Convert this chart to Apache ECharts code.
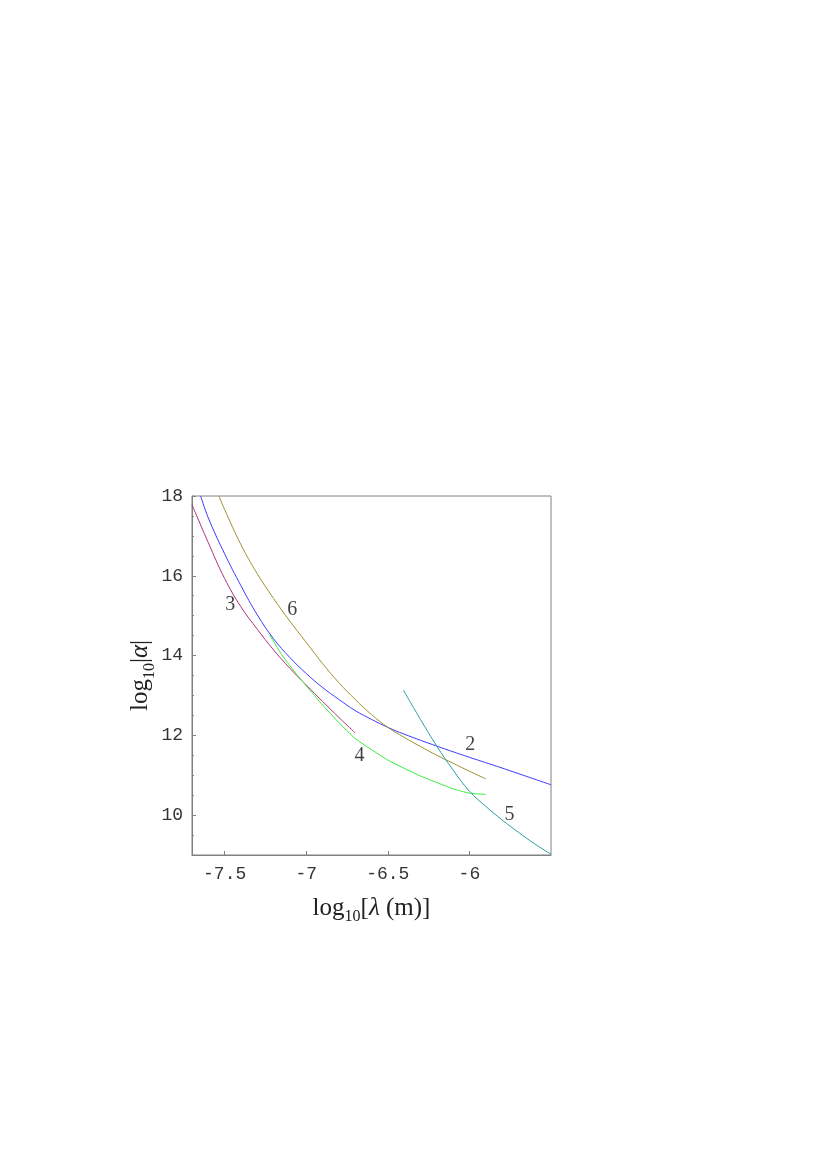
<!DOCTYPE html>
<html>
<head>
<meta charset="utf-8">
<script src="https://cdn.jsdelivr.net/npm/echarts@6/dist/echarts.min.js"></script>
<style>
html,body{margin:0;padding:0;background:#fff;}
#main{width:828px;height:1170px;}
</style>
</head>
<body>
<div id="main"></div>
<script>
// log10(lambda) ticks and log10|alpha| ticks
var xTicks = [-7.5, -7, -6.5, -6];
var xTickLabels = ['-7.5', '-7', '-6.5', '-6'];
var yTicks = [10, 12, 14, 16, 18];
var yMinorTicks = [9, 9.5, 10, 10.5, 11, 11.5, 12, 12.5, 13, 13.5, 14, 14.5, 15, 15.5, 16, 16.5, 17, 17.5, 18];

// curve 2 (blue)
var curve2 = [[-7.647,18.0],[-7.6,17.45],[-7.5,16.55],[-7.4,15.75],[-7.3,15.02],[-7.2,14.42],
    [-7.1,13.95],[-7.0,13.55],[-6.9,13.2],[-6.8,12.9],[-6.7,12.62],[-6.6,12.4],[-6.5,12.2],
    [-6.4,12.03],[-6.2,11.73],[-6.0,11.45],[-5.8,11.18],[-5.5,10.76]];
// curve 3 (magenta)
var curve3 = [[-7.7,17.78],[-7.6,16.83],[-7.5,15.93],[-7.4,15.22],[-7.3,14.66],[-7.2,14.14],
    [-7.1,13.68],[-7.0,13.26],[-6.9,12.85],[-6.8,12.45],[-6.7,12.06]];
// curve 4 (green)
var curve4 = [[-7.225,14.52],[-7.15,14.02],[-7.08,13.64],[-7.0,13.24],[-6.9,12.76],[-6.8,12.32],
    [-6.7,11.92],[-6.5,11.38],[-6.3,10.98],[-6.1,10.66],[-6.0,10.55],[-5.9,10.52]];
// curve 5 (teal)
var curve5 = [[-6.404,13.13],[-6.3,12.4],[-6.2,11.73],[-6.1,11.13],[-6.0,10.6],[-5.9,10.22],
    [-5.8,9.88],[-5.7,9.57],[-5.6,9.28],[-5.5,9.02]];
// curve 6 (olive)
var curve6 = [[-7.535,18.0],[-7.5,17.66],[-7.4,16.78],[-7.3,16.05],[-7.2,15.43],[-7.1,14.86],
    [-7.0,14.33],[-6.9,13.8],[-6.8,13.32],[-6.7,12.9],[-6.6,12.52],[-6.5,12.2],[-6.4,11.95],
    [-6.3,11.72],[-6.2,11.5],[-6.1,11.3],[-6.0,11.1],[-5.9,10.91]];

// curve number labels: [x, y, text]
var curveLabels = [[-5.995,11.77,'2'],[-7.465,15.27,'3'],[-6.673,11.48,'4'],[-5.755,10.02,'5'],[-7.085,15.14,'6']];

var AXIS_GRAY = '#808080';
var SERIF = '"Liberation Serif","DejaVu Serif",serif';
var MONO = '"Liberation Mono","DejaVu Sans Mono",monospace';

var chart = echarts.init(document.getElementById('main'));

function curve(name, data, color, smooth){
    return {
        name: name,
        type: 'line',
        data: data,
        showSymbol: false,
        smooth: smooth,
        lineStyle: {color: color, width: 1},
        itemStyle: {color: color},
        animation: false
    };
}

var nameRich = {
    t: {fontFamily: SERIF, fontSize: 25, color: '#222', lineHeight: 34},
    s: {fontFamily: SERIF, fontSize: 16, color: '#222', verticalAlign: 'bottom', lineHeight: 20},
    g: {fontFamily: SERIF, fontSize: 25, color: '#222', fontStyle: 'italic', lineHeight: 34}
};

var option = {
    backgroundColor: '#fff',
    animation: false,
    grid: {
        left: 192, top: 496, width: 359, height: 359,
        show: true, borderColor: AXIS_GRAY, borderWidth: 1
    },
    xAxis: {
        type: 'value',
        min: -7.7, max: -5.5,
        name: '{t|log}{s|10}{t|[}{g|λ}{t| (m)]}',
        nameLocation: 'middle',
        nameGap: 36,
        nameTextStyle: {rich: nameRich},
        axisLine: {lineStyle: {color: AXIS_GRAY}},
        axisTick: {inside: true, length: 4, lineStyle: {color: AXIS_GRAY}, customValues: xTicks},
        axisLabel: {
            customValues: xTicks,
            margin: 10,
            fontFamily: MONO, fontSize: 18, color: '#333',
            formatter: function(v){
                var i = xTicks.indexOf(v);
                return i >= 0 ? xTickLabels[i] : '';
            }
        },
        splitLine: {show: false}
    },
    yAxis: [{
        type: 'value',
        min: 9, max: 18,
        name: '{t|log}{s|10}{t||}{g|α}{t||}',
        nameLocation: 'middle',
        nameGap: 32,
        nameTextStyle: {rich: nameRich},
        axisLine: {lineStyle: {color: AXIS_GRAY}},
        axisTick: {inside: true, length: 4, lineStyle: {color: AXIS_GRAY}, customValues: yTicks},
        axisLabel: {customValues: yTicks, margin: 9, fontFamily: MONO, fontSize: 18, color: '#333'},
        splitLine: {show: false}
    }, {
        type: 'value',
        min: 9, max: 18,
        position: 'left',
        axisLine: {show: false},
        axisTick: {inside: true, length: 2, lineStyle: {color: AXIS_GRAY}, customValues: yMinorTicks},
        axisLabel: {show: false},
        splitLine: {show: false}
    }],
    series: [
        curve('3', curve3, '#b0307c', 0.4),
        curve('4', curve4, '#3cee3c', 0.15),
        curve('2', curve2, '#3c3cff', 0.4),
        curve('6', curve6, '#9e9130', 0.4),
        curve('5', curve5, '#2a9fa0', 0.4),
        {
            type: 'scatter',
            data: curveLabels,
            symbolSize: 0,
            silent: true,
            label: {
                show: true,
                position: 'inside',
                fontFamily: SERIF,
                fontSize: 20,
                color: '#111',
                formatter: function(p){ return p.data[2]; }
            }
        }
    ]
};

chart.setOption(option);
</script>
</body>
</html>
